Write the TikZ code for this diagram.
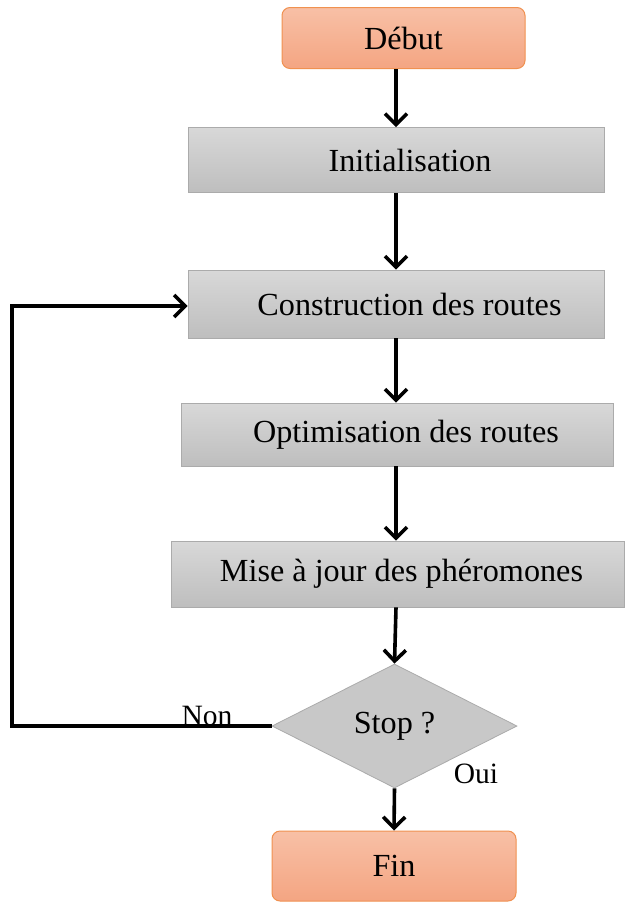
\documentclass[tikz,border=0pt]{standalone}
\usepackage{fontspec}
\setmainfont{Liberation Serif}
\usetikzlibrary{shapes.geometric,arrows.meta}
\definecolor{orangetop}{HTML}{F8C0A6}
\definecolor{orangebot}{HTML}{F4A582}
\definecolor{orangeedge}{HTML}{F09150}
\definecolor{graytop}{HTML}{D8D8D8}
\definecolor{graybot}{HTML}{BEBEBE}
\definecolor{grayedge}{HTML}{ABABAB}
% push a box label right of the box centre by #1
\newcommand{\pushright}[1]{\hspace*{#1}}
\begin{document}
\begin{tikzpicture}[x=1pt,y=-1pt,
  every node/.style={font=\fontsize{32.2}{38}\selectfont, inner sep=0pt},
  termbox/.style={rectangle, rounded corners=8pt, draw=orangeedge, line width=1pt,
    top color=orangetop, bottom color=orangebot, minimum width=243pt, minimum height=61pt},
  stepbox/.style={rectangle, draw=grayedge, line width=0.8pt,
    top color=graytop, bottom color=graybot, minimum height=65pt},
  testbox/.style={diamond, aspect=2, draw=grayedge, line width=0.8pt, fill=graybot!85!white,
    minimum width=245pt, minimum height=124pt},
  lbl/.style={font=\fontsize{29.5}{34}\selectfont},
  arr/.style={line width=3.6pt, -{Straight Barb[length=11pt,width=22pt,line width=3.6pt]}}]
\useasboundingbox (0,0) rectangle (625,903);

\node[termbox] (debut) at (403.5,38) {Début};
\node[stepbox, minimum width=416pt, minimum height=65pt] (init) at (396,160) {\pushright{28pt}Initialisation};
\node[stepbox, minimum width=416pt, minimum height=68pt] (constr) at (396,304) {\pushright{27pt}Construction des routes};
\node[stepbox, minimum width=432pt, minimum height=63pt] (optim) at (397,434.5) {\pushright{18pt}Optimisation des routes};
\node[stepbox, minimum width=453pt, minimum height=66pt] (maj) at (397.5,574) {\pushright{8pt}Mise à jour des phéromones};
\node[testbox] (stop) at (394.5,726) {Stop ?};
\node[termbox, minimum width=244pt, minimum height=70pt] (fin) at (394,866) {Fin};

\coordinate (loopbot) at (12,726);
\coordinate (looptop) at (12,306);

\draw[arr] (debut.south -| init.north) -- (init.north);
\draw[arr] (init.south) -- (constr.north);
\draw[arr] (constr.south) -- (optim.north -| constr.south);
\draw[arr] (optim.south -| constr.south) -- (maj.north -| constr.south);
\draw[arr] (maj.south -| constr.south) -- (stop.north);
\draw[arr] (stop.south) -- (fin.north);
\draw[arr, line join=miter] (stop.west) -- (loopbot) -- (looptop) -- (constr.west |- looptop);

\node[lbl] (non) at (207,716) {Non};
\node[lbl] (oui) at (476,774) {Oui};
\end{tikzpicture}
\end{document}
